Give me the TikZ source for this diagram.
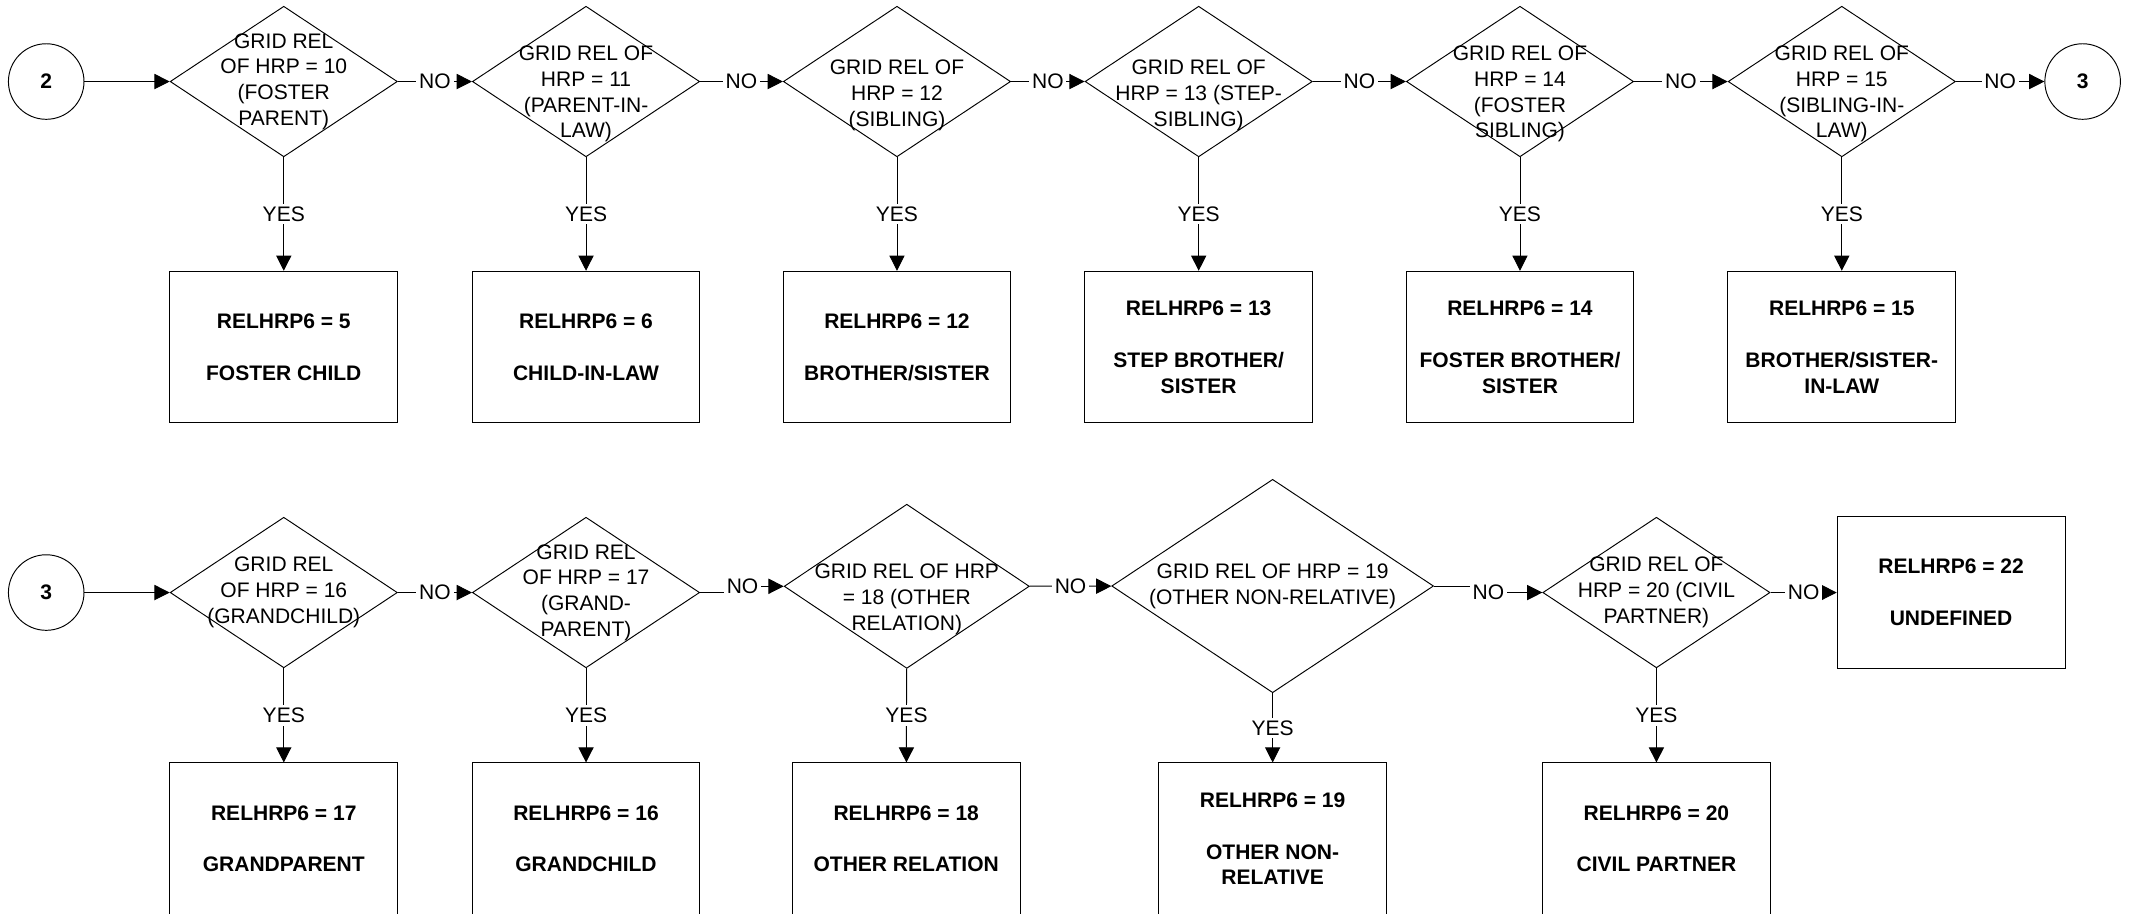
\documentclass[tikz,border=0pt]{standalone}
\usepackage{fontspec}
\setmainfont{Liberation Sans}
\usetikzlibrary{shapes.geometric,arrows.meta}

\newcommand{\chartfont}{\fontsize{11pt}{13.5pt}\selectfont}

\tikzset{
  decbox/.style={draw, diamond, inner sep=0pt, minimum width=4.18cm, minimum height=2.77cm},
  dectext/.style={align=center, inner sep=0pt},
  outbox/.style={draw, rectangle, inner sep=0pt, minimum width=4.19cm, minimum height=2.79cm, align=center, font=\chartfont\bfseries},
  conn/.style={draw, circle, inner sep=0pt, minimum size=1.39cm, font=\chartfont\bfseries},
  flow/.style={-{Triangle[length=0.28cm,width=0.28cm]}},
  yesno/.style={fill=white, inner sep=1.5pt},
}

\begin{document}
\begin{tikzpicture}[font=\chartfont, line width=0.5pt]
	\useasboundingbox (0,0) rectangle (39.2,16.8);

	% first row
	\node[conn] (c2) at (0.85,15.3) {2};
	\node[decbox] (d10) at (5.22,15.3) {};
	\node[dectext] (t10) at (d10) {GRID REL\\OF HRP = 10\\(FOSTER\\PARENT)};
	\node[decbox] (d11) at (10.78,15.3) {};
	\node[dectext,yshift=-0.23cm] (t11) at (d11) {GRID REL OF\\HRP = 11\\(PARENT-IN-\\LAW)};
	\node[decbox] (d12) at (16.5,15.3) {};
	\node[dectext,yshift=-0.25cm] (t12) at (d12) {GRID REL OF\\HRP = 12\\(SIBLING)};
	\node[decbox] (d13) at (22.05,15.3) {};
	\node[dectext,yshift=-0.25cm] (t13) at (d13) {GRID REL OF\\HRP = 13 (STEP-\\SIBLING)};
	\node[decbox] (d14) at (27.96,15.3) {};
	\node[dectext,yshift=-0.23cm] (t14) at (d14) {GRID REL OF\\HRP = 14\\(FOSTER\\SIBLING)};
	\node[decbox] (d15) at (33.88,15.3) {};
	\node[dectext,yshift=-0.23cm] (t15) at (d15) {GRID REL OF\\HRP = 15\\(SIBLING-IN-\\LAW)};
	\node[conn] (c3a) at (38.31,15.3) {3};

	\node[outbox] (b5) at (5.22,10.415) {RELHRP6 = 5\\[\baselineskip]FOSTER CHILD};
	\node[outbox] (b6) at (10.78,10.415) {RELHRP6 = 6\\[\baselineskip]CHILD-IN-LAW};
	\node[outbox] (b12) at (16.5,10.415) {RELHRP6 = 12\\[\baselineskip]BROTHER/SISTER};
	\node[outbox] (b13) at (22.05,10.415) {RELHRP6 = 13\\[\baselineskip]STEP BROTHER/\\SISTER};
	\node[outbox] (b14) at (27.96,10.415) {RELHRP6 = 14\\[\baselineskip]FOSTER BROTHER/\\SISTER};
	\node[outbox] (b15) at (33.88,10.415) {RELHRP6 = 15\\[\baselineskip]BROTHER/SISTER-\\IN-LAW};

	\draw[flow] (c2) -- (d10);
	\draw[flow] (d10) -- node[yesno] {NO} (d11);
	\draw[flow] (d11) -- node[yesno] {NO} (d12);
	\draw[flow] (d12) -- node[yesno] {NO} (d13);
	\draw[flow] (d13) -- node[yesno] {NO} (d14);
	\draw[flow] (d14) -- node[yesno] {NO} (d15);
	\draw[flow] (d15) -- node[yesno] {NO} (c3a);

	\draw[flow] (d10) -- node[yesno] {YES} (b5);
	\draw[flow] (d11) -- node[yesno] {YES} (b6);
	\draw[flow] (d12) -- node[yesno] {YES} (b12);
	\draw[flow] (d13) -- node[yesno] {YES} (b13);
	\draw[flow] (d14) -- node[yesno] {YES} (b14);
	\draw[flow] (d15) -- node[yesno] {YES} (b15);

	% second row
	\node[conn] (c3b) at (0.85,5.9) {3};
	\node[decbox] (d16) at (5.22,5.9) {};
	\node[dectext] (t16) at (d16) {GRID REL\\OF HRP = 16\\(GRANDCHILD)};
	\node[decbox] (d17) at (10.78,5.9) {};
	\node[dectext] (t17) at (d17) {GRID REL\\OF HRP = 17\\(GRAND-\\PARENT)};
	\node[decbox, minimum width=4.51cm, minimum height=3.02cm] (d18) at (16.68,6.015) {};
	\node[dectext,yshift=-0.235cm] (t18) at (d18) {GRID REL OF HRP\\= 18 (OTHER\\RELATION)};
	\node[decbox, minimum width=5.92cm, minimum height=3.925cm] (d19) at (23.41,6.02) {};
	\node[dectext] (t19) at (d19) {GRID REL OF HRP = 19\\(OTHER NON-RELATIVE)};
	\node[decbox] (d20) at (30.47,5.9) {};
	\node[dectext] (t20) at (d20) {GRID REL OF\\HRP = 20 (CIVIL\\PARTNER)};
	\node[outbox] (b22) at (35.89,5.9) {RELHRP6 = 22\\[\baselineskip]UNDEFINED};

	\node[outbox] (b17) at (5.22,1.37) {RELHRP6 = 17\\[\baselineskip]GRANDPARENT};
	\node[outbox] (b16) at (10.78,1.37) {RELHRP6 = 16\\[\baselineskip]GRANDCHILD};
	\node[outbox] (b18) at (16.67,1.37) {RELHRP6 = 18\\[\baselineskip]OTHER RELATION};
	\node[outbox] (b19) at (23.41,1.37) {RELHRP6 = 19\\[\baselineskip]OTHER NON-\\RELATIVE};
	\node[outbox] (b20) at (30.47,1.37) {RELHRP6 = 20\\[\baselineskip]CIVIL PARTNER};

	\draw[flow] (c3b) -- (d16);
	\draw[flow] (d16) -- node[yesno] {NO} (d17);
	\draw[flow] (d17.east) -- ++(0.78,0) |- node[yesno] {NO} (d18.west);
	\draw[flow] (d18) -- node[yesno] {NO} (d19);
	\draw[flow] (d19.east) -- ++(1.0,0) |- node[yesno] {NO} (d20.west);
	\draw[flow] (d20) -- node[yesno] {NO} (b22);

	\draw[flow] (d16) -- node[yesno] {YES} (b17);
	\draw[flow] (d17) -- node[yesno] {YES} (b16);
	\draw[flow] (d18) -- node[yesno] {YES} (b18);
	\draw[flow] (d19) -- node[yesno] {YES} (b19);
	\draw[flow] (d20) -- node[yesno] {YES} (b20);
\end{tikzpicture}
\end{document}
